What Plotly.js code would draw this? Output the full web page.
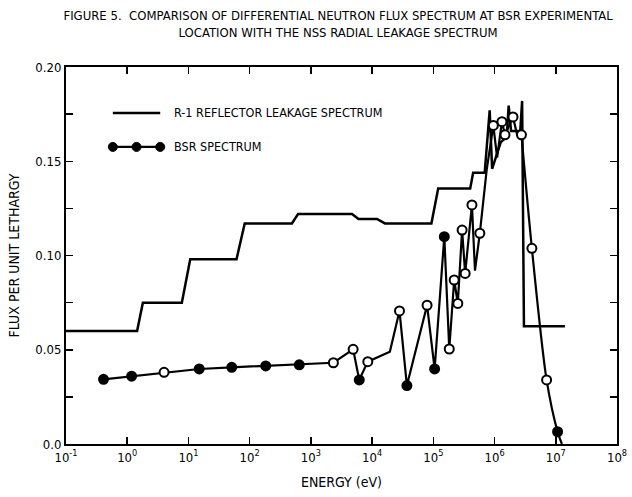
<!DOCTYPE html>
<html>
<head>
<meta charset="utf-8">
<script src="https://cdn.plot.ly/plotly-3.0.1.min.js"></script>
<style>html,body{margin:0;padding:0;background:#fff;}#chart{width:632px;height:497px;}</style>
</head>
<body>
<div id="chart"></div>
<script>
// R-1 reflector leakage spectrum (energy in eV, flux per unit lethargy)
const r1Energy = [0.1, 1.45, 1.8, 7.8, 10.7, 61, 83, 490, 617, 4700, 6000, 12000, 16200, 93000, 120000, 400000, 447000,
  690000, 832000, 912000, 1.26e6, 1.58e6, 1.70e6, 1.86e6, 2.63e6, 2.82e6, 3.02e6, 1.41e7];
const r1Flux = [0.060, 0.060, 0.075, 0.075, 0.098, 0.098, 0.117, 0.117, 0.122, 0.122, 0.1194, 0.1194, 0.117, 0.117, 0.1356, 0.1356, 0.1439,
  0.1439, 0.177, 0.146, 0.160, 0.163, 0.1795, 0.166, 0.166, 0.182, 0.0625, 0.0625];

// BSR spectrum
const bsrEnergy = [0.41, 1.18, 4.0, 15, 51, 183, 646, 2330, 4900, 6170, 8500, 19500, 28000, 37000, 79000, 105000, 151000,
  182000, 219000, 251000, 295000, 331000, 427000, 479000, 575000, 741000, 955000, 1.1e6, 1.32e6, 1.48e6, 2.0e6, 2.34e6, 2.75e6,
  4.07e6, 7.08e6, 1.07e7, 1.26e7];
const bsrFlux = [0.0343, 0.036, 0.038, 0.0398, 0.0407, 0.0414, 0.042, 0.0431, 0.0502, 0.034, 0.0437, 0.049, 0.0706, 0.031, 0.0736, 0.0398, 0.110,
  0.0504, 0.087, 0.0746, 0.1135, 0.0905, 0.1268, 0.092, 0.1118, 0.145, 0.169, 0.152, 0.171, 0.164, 0.1735, 0.164, 0.164,
  0.1038, 0.034, 0.0065, 0.0];
// point symbol kind: f = filled, o = open, n = no marker
const bsrKind = ['f','f','o','f','f','f','f','o','o','f','o','n','o','f','o','f','f',
  'o','o','o','o','o','o','n','o','n','o','n','o','o','o','n','o',
  'o','o','f','n'];
const smoothFrom = 32; // index where the smooth fall-off curve begins

const xTickVals = [0.1, 1, 10, 100, 1e3, 1e4, 1e5, 1e6, 1e7, 1e8];
const xTickText = ['10<sup>-1</sup>','10<sup>0</sup>','10<sup>1</sup>','10<sup>2</sup>','10<sup>3</sup>','10<sup>4</sup>','10<sup>5</sup>','10<sup>6</sup>','10<sup>7</sup>','10<sup>8</sup>'];
const yTickVals = [0, 0.05, 0.10, 0.15, 0.20];
const yTickText = ['0.0', '0.05', '0.10', '0.15', '0.20'];

const FONT = '"Liberation Sans Narrow", "DejaVu Sans Condensed", "Arial Narrow", sans-serif';

const mColor = bsrKind.map(k => k === 'o' ? '#ffffff' : '#000000');
const mSize = bsrKind.map(k => k === 'n' ? 0 : 9);
const mLineW = bsrKind.map(k => k === 'n' ? 0 : 2);

const traces = [
  {x: r1Energy, y: r1Flux, type: 'scatter', mode: 'lines', line: {color: '#000', width: 2.5}, showlegend: false},
  {x: bsrEnergy.slice(smoothFrom), y: bsrFlux.slice(smoothFrom), type: 'scatter', mode: 'lines',
   line: {color: '#000', width: 2.2, shape: 'spline', smoothing: 0.8}, showlegend: false},
  {x: bsrEnergy.slice(0, smoothFrom + 1), y: bsrFlux.slice(0, smoothFrom + 1), type: 'scatter', mode: 'lines',
   line: {color: '#000', width: 2.2}, showlegend: false},
  {x: bsrEnergy, y: bsrFlux, type: 'scatter', mode: 'markers',
   marker: {color: mColor, size: mSize, opacity: 1, line: {color: '#000', width: mLineW}}, showlegend: false}
];

// custom legend (paper coordinates)
const lgX0 = 0.085, lgX1 = 0.171, lgY1 = 0.878, lgY2 = 0.788, lgTx = 0.192;
const shapes = [
  {type: 'line', xref: 'paper', yref: 'paper', x0: lgX0, x1: lgX1, y0: lgY1, y1: lgY1, line: {color: '#000', width: 2.5}},
  {type: 'line', xref: 'paper', yref: 'paper', x0: lgX0, x1: lgX1, y0: lgY2, y1: lgY2, line: {color: '#000', width: 2.2}}
];
[lgX0, (lgX0 + lgX1) / 2, lgX1].forEach(px => {
  shapes.push({type: 'circle', xref: 'paper', yref: 'paper', xsizemode: 'pixel', ysizemode: 'pixel',
    xanchor: px, yanchor: lgY2, x0: -4.5, x1: 4.5, y0: -4.5, y1: 4.5,
    fillcolor: '#000', line: {color: '#000', width: 1}});
});

const layout = {
  width: 632, height: 497,
  margin: {l: 66, r: 15, t: 67, b: 53},
  paper_bgcolor: '#fff', plot_bgcolor: '#fff',
  font: {family: FONT, size: 12, color: '#000'},
  title: {
    text: 'FIGURE 5.  COMPARISON OF DIFFERENTIAL NEUTRON FLUX SPECTRUM AT BSR EXPERIMENTAL<br>LOCATION WITH THE NSS RADIAL LEAKAGE SPECTRUM',
    font: {family: FONT, size: 13, color: '#000'},
    x: 0.535, xanchor: 'center', xref: 'container',
    y: 1, yanchor: 'bottom', yref: 'paper', pad: {b: 47}
  },
  xaxis: {
    type: 'log', range: [-1, 8], tickvals: xTickVals, ticktext: xTickText,
    ticks: 'inside', ticklen: 7, tickwidth: 1.5, tickcolor: '#000',
    showline: true, linecolor: '#000', linewidth: 2, mirror: 'ticks', showgrid: false, zeroline: false,
    tickfont: {family: FONT, size: 13},
    title: {text: 'ENERGY (eV)', font: {family: FONT, size: 14}, standoff: 14}
  },
  yaxis: {
    range: [0, 0.2], tickvals: yTickVals, ticktext: yTickText,
    ticks: 'inside', ticklen: 7, tickwidth: 1.5, tickcolor: '#000',
    minor: {dtick: 0.025, ticks: 'inside', ticklen: 7, tickwidth: 1.5, tickcolor: '#000', showgrid: false},
    showline: true, linecolor: '#000', linewidth: 2, mirror: 'ticks', showgrid: false, zeroline: false,
    tickfont: {family: FONT, size: 13},
    title: {text: 'FLUX PER UNIT LETHARGY', font: {family: FONT, size: 14}, standoff: 12}
  },
  shapes: shapes,
  annotations: [
    {xref: 'paper', yref: 'paper', x: lgTx, y: lgY1, xanchor: 'left', yanchor: 'middle', showarrow: false,
     text: 'R-1 REFLECTOR LEAKAGE SPECTRUM', font: {family: FONT, size: 12.5}},
    {xref: 'paper', yref: 'paper', x: lgTx, y: lgY2, xanchor: 'left', yanchor: 'middle', showarrow: false,
     text: 'BSR SPECTRUM', font: {family: FONT, size: 12.5}}
  ],
  showlegend: false
};

Plotly.newPlot('chart', traces, layout, {displayModeBar: false, staticPlot: true});
</script>
</body>
</html>
